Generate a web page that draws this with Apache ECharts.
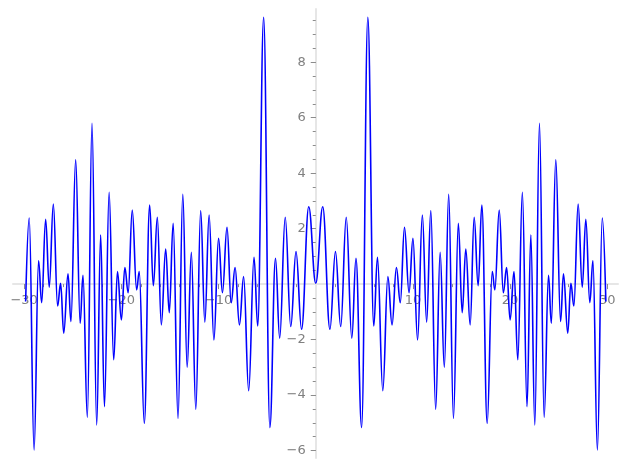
<!DOCTYPE html>
<html>
<head>
<meta charset="utf-8">
<script src="https://cdn.jsdelivr.net/npm/echarts@6/dist/echarts.min.js"></script>
<style>
  html, body { margin: 0; padding: 0; background: #fff; }
  #chart { width: 627px; height: 469px; }
</style>
</head>
<body>
<div id="chart"></div>
<script>
// extrema of the curve (left to right)
var xValues = [
  -29.85, -29.48, -28.98, -28.52, -28.2, -27.79, -27.42, -27.0, -26.56, -26.25,
  -25.93, -25.49, -25.19, -24.7, -24.24, -23.95, -23.5, -23.02, -22.54, -22.13,
  -21.74, -21.26, -20.79, -20.4, -20.0, -19.64, -19.3, -18.88, -18.43, -18.16,
  -17.64, -17.09, -16.71, -16.3, -15.89, -15.44, -15.07, -14.67, -14.17, -13.68,
  -13.23, -12.8, -12.34, -11.84, -11.41, -10.97, -10.48, -10.0, -9.6, -9.13,
  -8.7, -8.3, -7.85, -7.42, -6.9, -6.35, -5.97, -5.36, -4.72, -4.14,
  -3.71, -3.14, -2.57, -2.03, -1.46, -0.72,
  0,
  0.72, 1.46, 2.03, 2.57, 3.14, 3.71, 4.14, 4.72, 5.36, 5.97,
  6.35, 6.9, 7.42, 7.85, 8.3, 8.7, 9.13, 9.6, 10.0, 10.48,
  10.97, 11.41, 11.84, 12.34, 12.8, 13.23, 13.68, 14.17, 14.67, 15.07,
  15.44, 15.89, 16.3, 16.71, 17.09, 17.64, 18.16, 18.43, 18.88, 19.3,
  19.64, 20.0, 20.4, 20.79, 21.26, 21.74, 22.13, 22.54, 23.02, 23.5,
  23.95, 24.24, 24.7, 25.19, 25.49, 25.93, 26.25, 26.56, 27.0, 27.42,
  27.79, 28.2, 28.52, 28.98, 29.48, 29.85
];
var yValues = [
  -0.63, 2.38, -5.98, 0.84, -0.67, 2.34, -0.11, 2.89, -0.79, 0.03,
  -1.77, 0.37, -1.35, 4.48, -1.41, 0.32, -4.8, 5.8, -5.08, 1.77,
  -4.42, 3.31, -2.73, 0.45, -1.29, 0.6, -0.31, 2.67, -0.21, 0.45,
  -5.02, 2.85, -0.06, 2.41, -1.47, 1.26, -1.03, 2.19, -4.84, 3.24,
  -3.0, 1.15, -4.51, 2.65, -1.37, 2.49, -2.01, 1.65, -0.31, 2.05,
  -0.67, 0.6, -1.47, 0.27, -3.84, 0.97, -1.51, 9.62, -5.17, 0.93,
  -1.95, 2.41, -1.53, 1.17, -1.63, 2.79,
  0.03,
  2.79, -1.63, 1.17, -1.53, 2.41, -1.95, 0.93, -5.17, 9.62, -1.51,
  0.97, -3.84, 0.27, -1.47, 0.6, -0.67, 2.05, -0.31, 1.65, -2.01,
  2.49, -1.37, 2.65, -4.51, 1.15, -3.0, 3.24, -4.84, 2.19, -1.03,
  1.26, -1.47, 2.41, -0.06, 2.85, -5.02, 0.45, -0.21, 2.67, -0.31,
  0.6, -1.29, 0.45, -2.73, 3.31, -4.42, 1.77, -5.08, 5.8, -4.8,
  0.32, -1.41, 4.48, -1.35, 0.37, -1.77, 0.03, -0.79, 2.89, -0.11,
  2.34, -0.67, 0.84, -5.98, 2.38, -0.63
];

var xMajorTicks = [-30, -20, -10, 10, 20, 30];
var xMinorTicks = [-30, -28, -26, -24, -22, -20, -18, -16, -14, -12, -10, -8, -6, -4, -2,
  2, 4, 6, 8, 10, 12, 14, 16, 18, 20, 22, 24, 26, 28, 30];
var yMajorTicks = [-6, -4, -2, 2, 4, 6, 8];
var yMinorTicks = [-6, -5.5, -5, -4.5, -4, -3.5, -3, -2.5, -2, -1.5, -1, -0.5, 0.5, 1, 1.5,
  2, 2.5, 3, 3.5, 4, 4.5, 5, 5.5, 6, 6.5, 7, 7.5, 8, 8.5, 9, 9.5];

var points = xValues.map(function(x, i) { return [x, yValues[i]] });

var W = 627, H = 469
var gridLeft = 13, gridRight = 9, gridTop = 9, gridBottom = 11
var xMin = -31.15, xMax = 31.1
var yMin = -6.27, yMax = 9.92

// axes cross at the origin: shift them inward onto the zero lines
var plotW = W - gridLeft - gridRight
var plotH = H - gridTop - gridBottom
var xZeroFromLeft = (0 - xMin) / (xMax - xMin) * plotW
var yZeroFromBottom = (0 - yMin) / (yMax - yMin) * plotH

var lineColor = '#e6e6e6'
var tickColor = '#8c8c8c'
var labelColor = '#808080'

function minusSign(v) { return String(v).replace('-', '\u2212') }

var chart = echarts.init(document.getElementById('chart'))

chart.setOption({
  animation: false,
  grid: {
    left: gridLeft, right: gridRight, top: gridTop, bottom: gridBottom,
    containLabel: false, outerBoundsMode: 'none'
  },
  xAxis: [
    {
      type: 'value', min: xMin, max: xMax, position: 'bottom',
      offset: -yZeroFromBottom,
      splitLine: { show: false },
      axisLine: { onZero: false, lineStyle: { color: lineColor, width: 2 } },
      axisTick: { customValues: xMajorTicks, length: 5, lineStyle: { color: tickColor } },
      axisLabel: {
        customValues: xMajorTicks, color: labelColor, fontSize: 13, margin: 10,
        fontFamily: 'DejaVu Sans', formatter: minusSign
      }
    },
    {
      type: 'value', min: xMin, max: xMax, position: 'bottom',
      offset: -yZeroFromBottom,
      splitLine: { show: false },
      axisLine: { show: false, onZero: false },
      axisTick: { customValues: xMinorTicks, length: 3, lineStyle: { color: tickColor } },
      axisLabel: { show: false }
    }
  ],
  yAxis: [
    {
      type: 'value', min: yMin, max: yMax, position: 'left',
      offset: -xZeroFromLeft,
      splitLine: { show: false },
      axisLine: { onZero: false, lineStyle: { color: lineColor, width: 2 } },
      axisTick: { customValues: yMajorTicks, length: 5, lineStyle: { color: tickColor } },
      axisLabel: {
        customValues: yMajorTicks, color: labelColor, fontSize: 13, margin: 10,
        fontFamily: 'DejaVu Sans', formatter: minusSign
      }
    },
    {
      type: 'value', min: yMin, max: yMax, position: 'left',
      offset: -xZeroFromLeft,
      splitLine: { show: false },
      axisLine: { show: false, onZero: false },
      axisTick: { customValues: yMinorTicks, length: 3, lineStyle: { color: tickColor } },
      axisLabel: { show: false }
    }
  ],
  series: [
    {
      type: 'line',
      xAxisIndex: 0,
      yAxisIndex: 0,
      data: points,
      showSymbol: false,
      smooth: 0.4,
      smoothMonotone: 'x',
      lineStyle: { color: '#0000ff', width: 1.6 }
    }
  ]
})
</script>
</body>
</html>
